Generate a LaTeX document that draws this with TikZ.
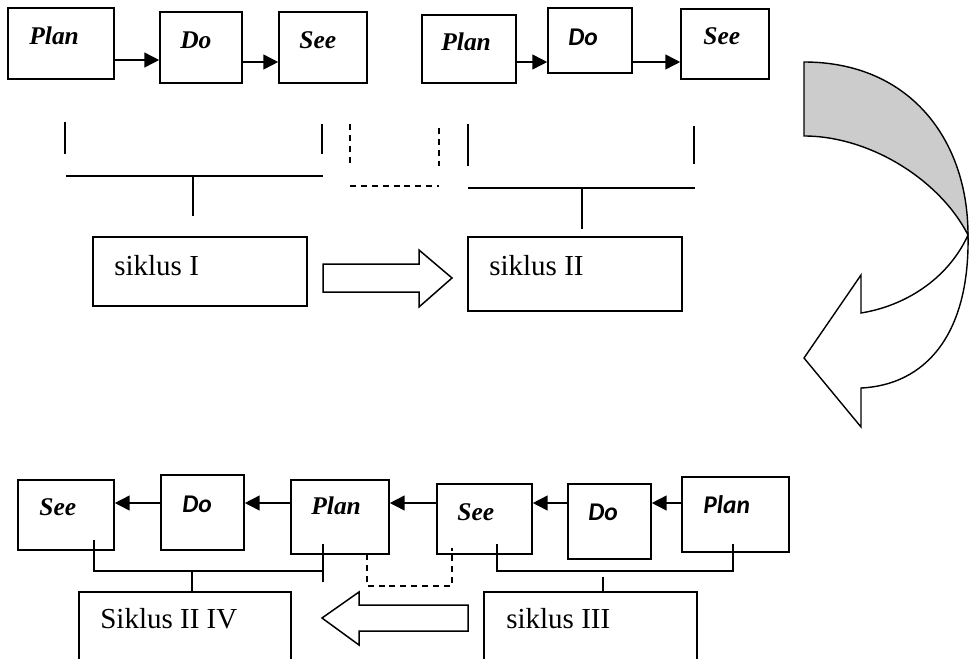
\documentclass[tikz,border=0pt]{standalone}
\usepackage{fontspec}
\setmainfont{Liberation Serif}
\newfontfamily\calibrisans{Carlito}
\usetikzlibrary{arrows.meta,fit}

\begin{document}
\begin{tikzpicture}[x=0.02cm,y=-0.02cm,
  box/.style={draw,line width=0.9pt,inner sep=0pt},
  lbl/.style={anchor=base west,inner sep=0pt,font=\fontsize{14.5}{16}\selectfont\bfseries\itshape},
  lbls/.style={anchor=base west,inner sep=0pt,font=\fontsize{14.5}{16}\selectfont\calibrisans\bfseries\itshape},
  cyc/.style={anchor=base west,inner sep=0pt,font=\fontsize{16.5}{18}\selectfont},
  arr/.style={line width=0.9pt,-{Triangle[length=8.5pt,width=8.5pt]}},
  brk/.style={line width=0.75pt},
  dsh/.style={line width=0.75pt,dash pattern=on 3.4pt off 2.8pt},
  blk/.style={draw,line width=0.85pt,fill=white,line join=miter}]
  \clip (0,0) rectangle (970,659);
  % first round: plan -> do -> see
  \node[box,fit={(8,8) (114,79)}] (plan1) {};
  \node[box,fit={(160,12) (242,83)}] (do1) {};
  \node[box,fit={(279,12) (367,83)}] (see1) {};
  \node[box,fit={(422,15) (516,83)}] (plan2) {};
  \node[box,fit={(548,8) (632,73)}] (do2) {};
  \node[box,fit={(681,9) (769,79)}] (see2) {};
  \node[lbl] (plan1t) at (29,44) {Plan};
  \node[lbl] (do1t) at (180,48) {Do};
  \node[lbl] (see1t) at (299,48) {See};
  \node[lbl] (plan2t) at (441,51) {Plan};
  \node[lbls] (do2t) at (568,45) {Do};
  \node[lbl] (see2t) at (703,44) {See};
  \draw[arr] (plan1.east |- 0,60) -- (do1.west |- 0,60);
  \draw[arr] (do1.east |- 0,62) -- (see1.west |- 0,62);
  \draw[arr] (plan2.east |- 0,62) -- (do2.west |- 0,62);
  \draw[arr] (do2.east |- 0,62) -- (see2.west |- 0,62);
  % brackets under the first row
  \draw[brk] (65,122) -- (65,154);
  \draw[brk] (322,124) -- (322,154);
  \draw[brk] (66,176) -- (323,176);
  \draw[brk] (193,176) -- (193,216);
  \draw[dsh] (350,124) -- (350,166);
  \draw[dsh] (439,128) -- (439,166);
  \draw[dsh] (350,186) -- (439,186);
  \draw[brk] (468,124) -- (468,166);
  \draw[brk] (694,126) -- (694,164);
  \draw[brk] (468,188) -- (695,188);
  \draw[brk] (582,188) -- (582,229);
  % cycle boxes
  \node[box,fit={(93,237) (307,306)}] (sik1) {};
  \node[box,fit={(468,237) (682,311)}] (sik2) {};
  \node[cyc] (sik1t) at (114,275) {siklus I};
  \node[cyc] (sik2t) at (489,275) {siklus II};
  \draw[blk] (323,264) -- (419,264) -- (419,250) -- (452,278) -- (419,307)
    -- (419,292) -- (323,292) -- cycle;
  % turning arrow (twisted band)
  \draw[line width=0.8pt,fill=white,line join=miter] (968,235)
    .. controls (950,275) and (910,305) .. (861,313) -- (861,275) -- (804,358)
    -- (861,427) -- (861,388) .. controls (925,385) and (970,335) .. (968,235) -- cycle;
  \draw[line width=0.8pt,fill=gray!40] (804,62)
    .. controls (910,62) and (968,140) .. (968,235)
    .. controls (940,180) and (870,136) .. (804,136) -- cycle;
  % second round, right to left
  \node[box,fit={(18,480) (114,550)}] (see3) {};
  \node[box,fit={(161,475) (244,550)}] (do3) {};
  \node[box,fit={(291,480) (389,554)}] (plan3) {};
  \node[box,fit={(437,484) (532,554)}] (see4) {};
  \node[box,fit={(568,484) (651,559)}] (do4) {};
  \node[box,fit={(682,477) (789,552)}] (plan4) {};
  \node[lbl] (see3t) at (39,515) {See};
  \node[lbls] (do3t) at (182,512) {Do};
  \node[lbl] (plan3t) at (311,514) {Plan};
  \node[lbl] (see4t) at (457,520) {See};
  \node[lbls] (do4t) at (588,520) {Do};
  \node[lbls] (plan4t) at (703,513) {Plan};
  \draw[arr] (do3.west |- 0,503) -- (see3.east |- 0,503);
  \draw[arr] (plan3.west |- 0,503) -- (do3.east |- 0,503);
  \draw[arr] (see4.west |- 0,503) -- (plan3.east |- 0,503);
  \draw[arr] (do4.west |- 0,503) -- (see4.east |- 0,503);
  \draw[arr] (plan4.west |- 0,503) -- (do4.east |- 0,503);
  \node[box,fit={(79,592) (291,680)}] (sik4) {};
  \node[box,fit={(484,592) (697,680)}] (sik3) {};
  \node[cyc] (sik4t) at (100,628) {Siklus II IV};
  \node[cyc] (sik3t) at (506,628) {siklus III};
  % brackets under the second row
  \draw[brk] (94,540) -- (94,571) -- (323,571);
  \draw[brk] (323,544) -- (323,582);
  \draw[brk] (192,571) -- (192,0 |- sik4.north);
  \draw[dsh] (367,554) -- (367,586) -- (452,586) -- (452,548);
  \draw[brk] (497,544) -- (497,571) -- (733,571) -- (733,544);
  \draw[brk] (603,577) -- (603,0 |- sik3.north);
  \draw[blk] (322,618) -- (359,592) -- (359,605) -- (468,605) -- (468,631)
    -- (359,631) -- (359,645) -- cycle;
\end{tikzpicture}
\end{document}
